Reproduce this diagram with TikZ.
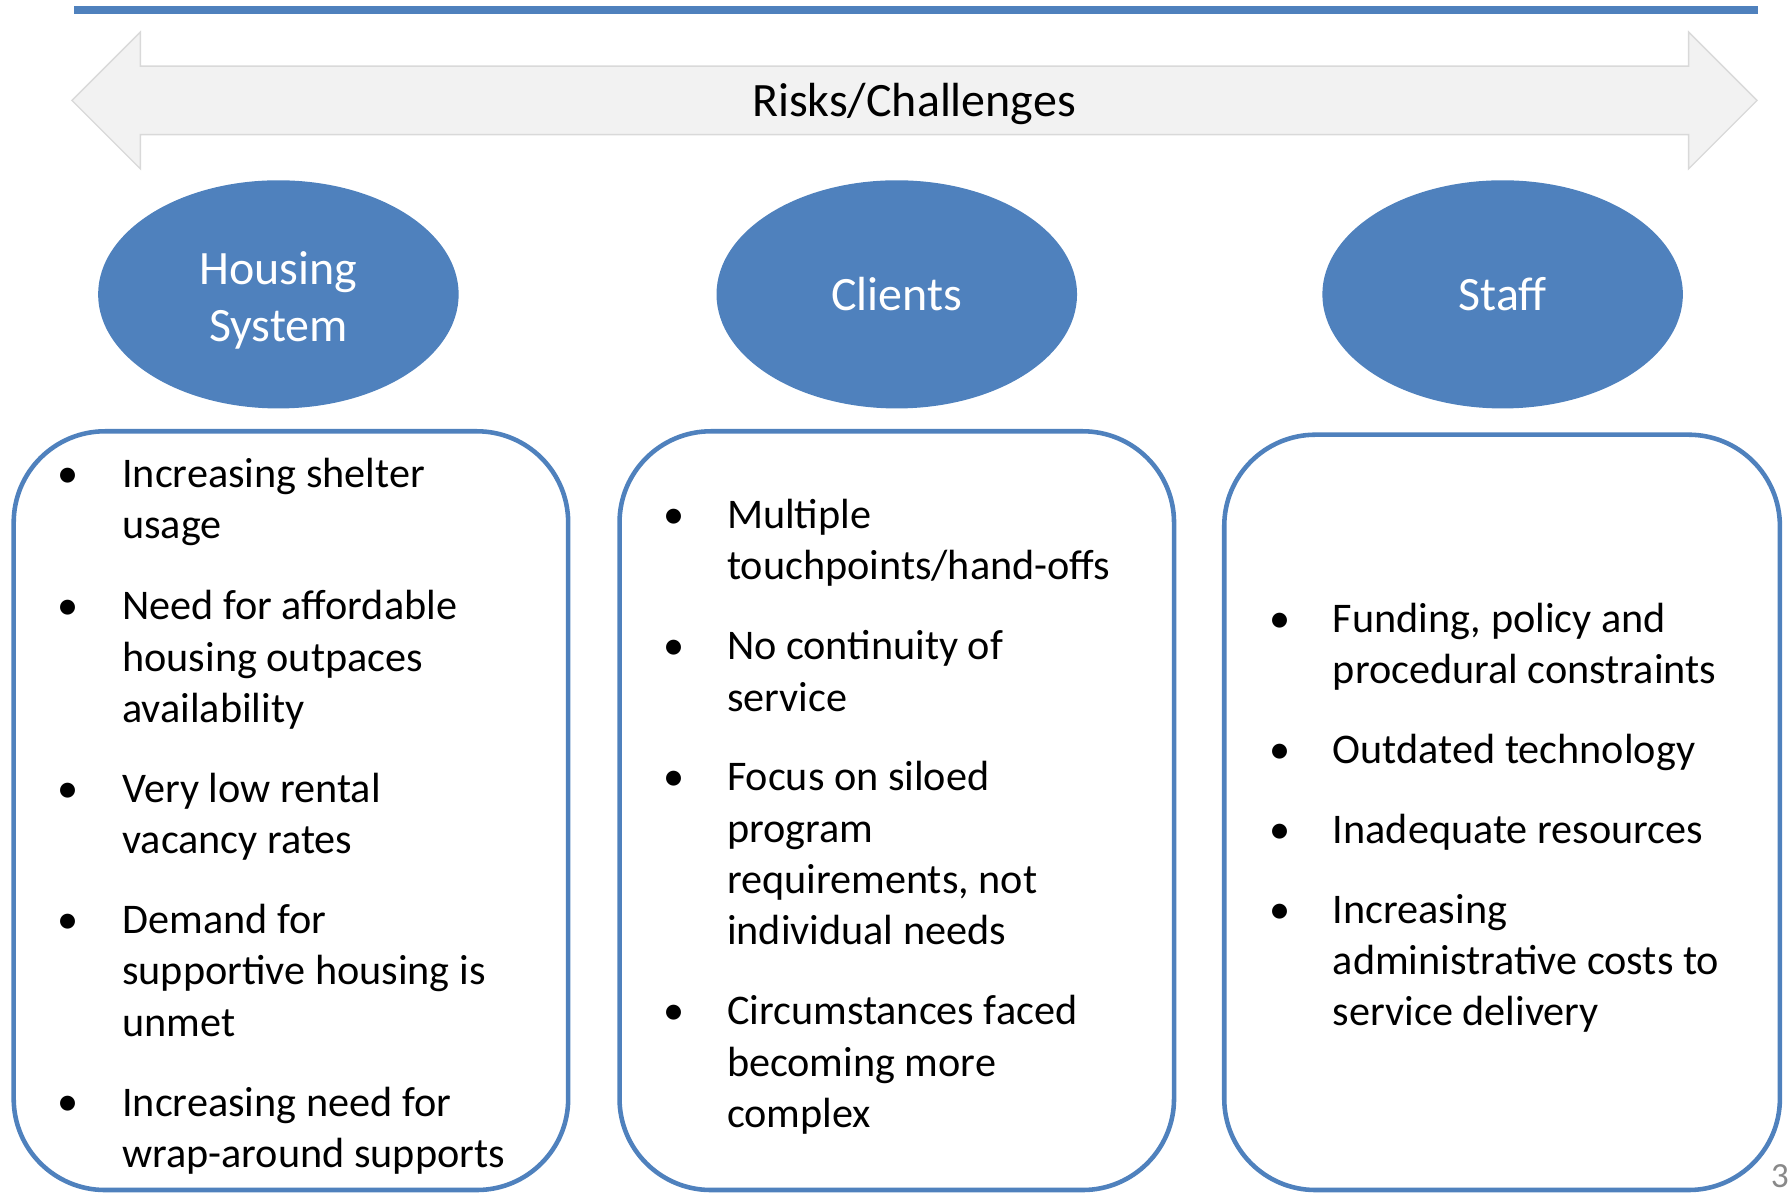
\documentclass[tikz,border=0pt]{standalone}
\usepackage{fontspec}
\setmainfont{Carlito}
\usepackage{tikz}
\usetikzlibrary{shapes.geometric}
\definecolor{slideblue}{RGB}{79,129,189}
\definecolor{arrowfill}{RGB}{242,242,242}
\definecolor{arrowline}{RGB}{217,217,217}
\definecolor{pagegray}{RGB}{137,137,137}

\begin{document}
\begin{tikzpicture}[x=1pt, y=-1pt,
	topic/.style={ellipse, fill=slideblue, text=white, minimum width=316pt, minimum height=200pt, inner sep=0pt, align=center, font=\fontsize{42}{50}\selectfont},
	panel/.style={draw=slideblue, fill=white, line width=4pt, rounded corners=80pt},
	bulletmark/.style={anchor=base, inner sep=0pt, font=\fontsize{37}{45}\selectfont},
	risktext/.style={anchor=north west, yshift=29.5pt, inner sep=0pt, align=left, font=\fontsize{37}{45}\selectfont}]
				\useasboundingbox (0,0) rectangle (1568,1046);
				% top rule and double arrow
				\draw [slideblue, line width=7pt] (65,9) -- (1541,9);
				\draw [arrowline, fill=arrowfill, line width=1.2pt] (63,88) -- (123,28) -- (123,58) -- (1480,58) -- (1480,28) -- (1540,88) -- (1480,148) -- (1480,118) -- (123,118) -- (123,148) -- cycle;
				\node [anchor=base, inner sep=0pt, font=\fontsize{42}{50}\selectfont] (title) at (801,102) {Risks/Challenges};
				% the three topics
				\node [topic] (housing) at (244,258) {\rule{0pt}{40pt}Housing\\System};
				\node [topic] (clients) at (786,258) {Clients};
				\node [topic] (staff) at (1317,258) {Staff};
				\draw [panel] (12,378) rectangle (498,1043);
				\draw [panel] (543,378) rectangle (1029,1043);
				\draw [panel] (1073,381) rectangle (1560,1043);
				% housing system
				\node [bulletmark] (h1b) at (60,427) {•};
				\node [risktext] (h1) at (107,425) {\strut Increasing shelter\\usage};
				\node [bulletmark] (h2b) at (60,543) {•};
				\node [risktext] (h2) at (107,541) {\strut Need for affordable\\housing outpaces\\availability};
				\node [bulletmark] (h3b) at (60,703) {•};
				\node [risktext] (h3) at (107,701) {\strut Very low rental\\vacancy rates};
				\node [bulletmark] (h4b) at (60,818) {•};
				\node [risktext] (h4) at (107,816) {\strut Demand for\\supportive housing is\\unmet};
				\node [bulletmark] (h5b) at (60,978) {•};
				\node [risktext] (h5) at (107,976) {\strut Increasing need for\\wrap-around supports};
				% clients
				\node [bulletmark] (c1b) at (591,463) {•};
				\node [risktext] (c1) at (637,461) {\strut Multiple\\touchpoints/hand-offs};
				\node [bulletmark] (c2b) at (591,578) {•};
				\node [risktext] (c2) at (637,576) {\strut No continuity of\\service};
				\node [bulletmark] (c3b) at (591,693) {•};
				\node [risktext] (c3) at (637,691) {\strut Focus on siloed\\program\\requirements, not\\individual needs};
				\node [bulletmark] (c4b) at (591,898) {•};
				\node [risktext] (c4) at (637,896) {\strut Circumstances faced\\becoming more\\complex};
				% staff
				\node [bulletmark] (s1b) at (1122,554) {•};
				\node [risktext] (s1) at (1168,552) {\strut Funding, policy and\\procedural constraints};
				\node [bulletmark] (s2b) at (1122,669) {•};
				\node [risktext] (s2) at (1168,667) {\strut Outdated technology};
				\node [bulletmark] (s3b) at (1122,739) {•};
				\node [risktext] (s3) at (1168,737) {\strut Inadequate resources};
				\node [bulletmark] (s4b) at (1122,809) {•};
				\node [risktext] (s4) at (1168,807) {\strut Increasing\\administrative costs to\\service delivery};
				% page number
				\node [anchor=base east, inner sep=0pt, text=pagegray, font=\fontsize{31}{36}\selectfont] (page) at (1568,1041) {3};
\end{tikzpicture}
\end{document}
